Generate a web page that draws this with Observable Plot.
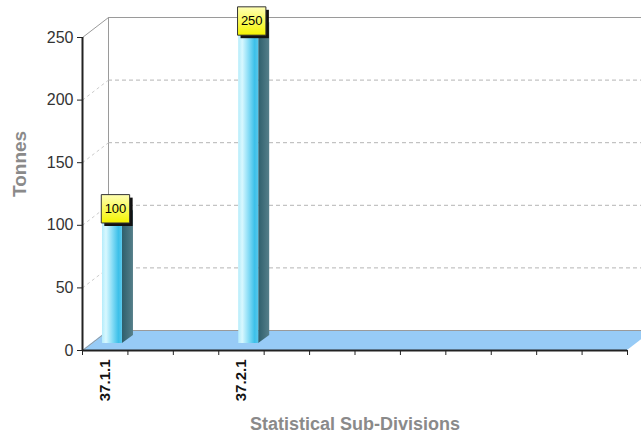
<!DOCTYPE html>
<html>
<head>
<meta charset="utf-8">
<script src="https://cdn.jsdelivr.net/npm/d3@7"></script>
<script src="https://cdn.jsdelivr.net/npm/@observablehq/plot@0.6"></script>
<style>
  html, body { margin: 0; padding: 0; background: #fff; overflow: hidden; }
</style>
</head>
<body>
<div id="chart"></div>
<script>
// ---- data ----
const categories = ["37.1.1", "", "", "37.2.1", "", "", "", "", "", "", "", ""];
const tonnes = [100, null, null, 250, null, null, null, null, null, null, null, null];
const yTicks = [0, 50, 100, 150, 200, 250];
const yTitle = "Tonnes";
const xTitle = "Statistical Sub-Divisions";

// ---- geometry (3D look) ----
const W = 641, H = 437;
const mL = 82, mR = 14, mT = 37, mB = 87;
const kx = (W - mL - mR) / categories.length;   // px per category
const ky = (H - mT - mB) / 250;                  // px per tonne
const DX = 26 / kx, DY = 20 / ky;                // wall depth in data units
const SDX = 11 / kx, SDY = 8 / ky;               // bar depth in data units
const BAR_L = 0.44, BAR_R = 0.88;                // bar front face within its slot
const BAR_DY = -7;                               // bar sits slightly back on the floor

const bars = categories.map((c, i) => ({i, c, v: tonnes[i]})).filter(d => d.v != null);
const labeled = categories.map((c, i) => ({i, c})).filter(d => d.c !== "");
const sideData = bars.flatMap(b => [
  {i: b.i, x: b.i + BAR_R, y1: 0, y2: b.v},
  {i: b.i, x: b.i + BAR_R + SDX, y1: SDY, y2: b.v + SDY}
]);
const topData = bars.flatMap(b => [
  {i: b.i, y: b.v, x1: b.i + BAR_L, x2: b.i + BAR_R},
  {i: b.i, y: b.v + SDY, x1: b.i + BAR_L + SDX, x2: b.i + BAR_R + SDX}
]);
const floorData = [
  {y: 0, x1: 0, x2: categories.length},
  {y: DY, x1: DX, x2: categories.length + DX}
];
const boundaries = categories.map((_, i) => i).concat([categories.length]);

const NS = "http://www.w3.org/2000/svg";
function grad(id, stops, vertical) {
  const g = document.createElementNS(NS, "linearGradient");
  g.setAttribute("id", id);
  g.setAttribute("x1", "0"); g.setAttribute("y1", "0");
  g.setAttribute("x2", vertical ? "0" : "1"); g.setAttribute("y2", vertical ? "1" : "0");
  for (const [o, c] of stops) {
    const s = document.createElementNS(NS, "stop");
    s.setAttribute("offset", o); s.setAttribute("stop-color", c);
    g.appendChild(s);
  }
  return g;
}
const defsMark = () => {
  const defs = document.createElementNS(NS, "defs");
  defs.appendChild(grad("frontGrad", [["0%", "#b4ecfb"], ["20%", "#d8f8ff"], ["52%", "#86dcf6"], ["82%", "#3cc0e9"], ["100%", "#58c8ec"]], false));
  defs.appendChild(grad("sideGrad", [["0%", "#2e5f6c"], ["100%", "#557f8a"]], false));
  defs.appendChild(grad("boxGrad", [["0%", "#ffffb4"], ["100%", "#f4f400"]], true));
  return defs;
};

const font = "'Liberation Sans', Arial, sans-serif";

const chart = Plot.plot({
  width: W, height: H,
  marginLeft: mL, marginRight: mR, marginTop: mT, marginBottom: mB,
  style: {fontFamily: font, background: "#fff", overflow: "hidden"},
  x: {type: "linear", domain: [0, categories.length], axis: null},
  y: {domain: [0, 250], axis: null},
  marks: [
    defsMark,
    // floor
    Plot.areaX(floorData, {y: "y", x1: "x1", x2: "x2", fill: "#97cbf6", curve: "linear"}),
    // back wall grid lines
    Plot.ruleY(yTicks.filter(t => t > 0 && t < 250), {dx: 26, dy: -20, stroke: "#b4b4b4", strokeDasharray: "4,3"}),
    Plot.ruleY([0, 250], {dx: 26, dy: -20, stroke: "#9a9a9a"}),
    Plot.ruleX([0], {y1: 0, y2: 250, dx: 26, dy: -20, stroke: "#9a9a9a"}),
    // side wall diagonals
    Plot.link(yTicks.filter(t => t > 0 && t < 250), {x1: 0, x2: DX, y1: d => d, y2: d => d + DY, stroke: "#cccccc", strokeDasharray: "3,3"}),
    Plot.link([0, 250], {x1: 0, x2: DX, y1: d => d, y2: d => d + DY, stroke: "#9a9a9a"}),
    // bars
    Plot.areaY(sideData, {x: "x", y1: "y1", y2: "y2", z: "i", dy: BAR_DY, fill: "url(#sideGrad)", curve: "linear"}),
    Plot.areaX(topData, {y: "y", x1: "x1", x2: "x2", z: "i", dy: BAR_DY, fill: "#a6e6f8", curve: "linear"}),
    Plot.rect(bars, {x1: d => d.i + BAR_L, x2: d => d.i + BAR_R, y1: 0, y2: "v", dy: BAR_DY, fill: "url(#frontGrad)"}),
    // axes lines
    Plot.ruleY([0], {stroke: "#222", strokeWidth: 2}),
    Plot.ruleX([0], {y1: 0, y2: 250, stroke: "#222", strokeWidth: 2}),
    Plot.axisY({ticks: yTicks, tickSize: 5, tickPadding: 4, fontSize: 16, fill: "#333", stroke: "#222", label: null}),
    Plot.axisX({ticks: boundaries, tickSize: 5, tickFormat: () => "", stroke: "#222", label: null}),
    Plot.text(labeled, {x: d => d.i + 0.5, y: 0, text: "c", rotate: -90, textAnchor: "end", dy: 9, fontSize: 15, fontWeight: "bold", fill: "#111"}),
    // titles
    Plot.text([yTitle], {frameAnchor: "left", text: d => d, rotate: -90, dx: -63, dy: 3, fontSize: 19, fontWeight: "bold", fill: "#8a8a8a"}),
    Plot.text([xTitle], {frameAnchor: "bottom", text: d => d, dy: 74, lineAnchor: "middle", fontSize: 18, fontWeight: "bold", fill: "#8a8a8a"}),
    // value labels
    Plot.dot(bars, {x: d => d.i + (BAR_L + BAR_R) / 2, y: "v", dx: 6, dy: -13.5, symbol: "square", r: 16, fill: "#111", stroke: "none"}),
    Plot.dot(bars, {x: d => d.i + (BAR_L + BAR_R) / 2, y: "v", dx: 3, dy: -16.5, symbol: "square", r: 16, fill: "url(#boxGrad)", stroke: "#333", strokeWidth: 1}),
    Plot.text(bars, {x: d => d.i + (BAR_L + BAR_R) / 2, y: "v", dx: 3, dy: -16.5, text: d => String(d.v), fontSize: 13, fill: "#000"})
  ]
});
document.getElementById("chart").appendChild(chart);
</script>
</body>
</html>
